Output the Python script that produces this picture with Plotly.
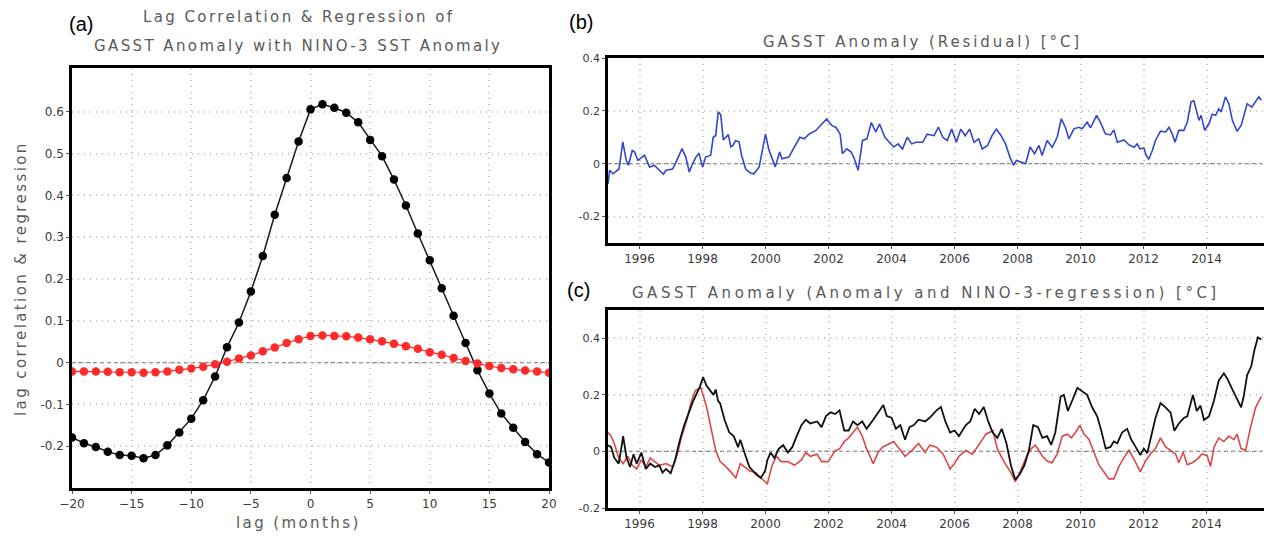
import plotly.graph_objects as go

# ---------------- Panel (a) data ----------------
lags = list(range(-20, 21))
lag_corr = [-0.179, -0.193, -0.202, -0.213, -0.221, -0.223, -0.229, -0.221, -0.198, -0.167,
            -0.134, -0.090, -0.033, 0.037, 0.096, 0.170, 0.255, 0.354, 0.442, 0.529,
            0.606, 0.618, 0.610, 0.598, 0.575, 0.533, 0.494, 0.438, 0.376, 0.309,
            0.245, 0.178, 0.112, 0.047, -0.018, -0.074, -0.122, -0.156, -0.190, -0.219, -0.239]
lag_regr = [-0.021, -0.021, -0.021, -0.022, -0.023, -0.023, -0.024, -0.023, -0.021, -0.017,
            -0.014, -0.010, -0.004, 0.002, 0.010, 0.017, 0.027, 0.036, 0.047, 0.056,
            0.064, 0.065, 0.064, 0.063, 0.060, 0.056, 0.051, 0.045, 0.039, 0.033,
            0.025, 0.019, 0.011, 0.004, -0.002, -0.008, -0.013, -0.016, -0.019, -0.021, -0.024]
lag_ticks = [-20, -15, -10, -5, 0, 5, 10, 15, 20]
a_yticks = [-0.2, -0.1, 0, 0.1, 0.2, 0.3, 0.4, 0.5, 0.6]

# ---------------- Panel (b) data: residual ----------------
b_year = [1995.0, 1995.05, 1995.16, 1995.26, 1995.35, 1995.47, 1995.58, 1995.65, 1995.77, 1995.84,
          1995.95, 1996.16, 1996.32, 1996.47, 1996.63, 1996.76, 1996.84, 1997.05, 1997.16, 1997.35,
          1997.47, 1997.58, 1997.66, 1997.79, 1997.89, 1998.0, 1998.1, 1998.26, 1998.34, 1998.42,
          1998.5, 1998.58, 1998.66, 1998.74, 1998.82, 1998.9, 1998.97, 1999.05, 1999.16, 1999.24,
          1999.37, 1999.53, 1999.63, 1999.8, 2000.0, 2000.1, 2000.31, 2000.45, 2000.52, 2000.74,
          2000.95, 2001.09, 2001.23, 2001.38, 2001.59, 2001.8, 2001.94, 2002.11, 2002.23, 2002.37,
          2002.44, 2002.58, 2002.72, 2002.82, 2002.94, 2003.08, 2003.22, 2003.36, 2003.5, 2003.62,
          2003.79, 2003.93, 2004.07, 2004.21, 2004.35, 2004.5, 2004.64, 2004.78, 2004.99, 2005.13,
          2005.35, 2005.49, 2005.63, 2005.77, 2005.91, 2006.06, 2006.2, 2006.34, 2006.48, 2006.62,
          2006.77, 2006.88, 2007.05, 2007.19, 2007.33, 2007.48, 2007.62, 2007.76, 2007.87, 2007.97,
          2008.11, 2008.26, 2008.4, 2008.54, 2008.68, 2008.78, 2008.94, 2009.1, 2009.26, 2009.39,
          2009.52, 2009.63, 2009.79, 2009.95, 2010.05, 2010.21, 2010.32, 2010.51, 2010.63, 2010.79,
          2010.95, 2011.06, 2011.17, 2011.38, 2011.54, 2011.7, 2011.8, 2011.89, 2012.01, 2012.09,
          2012.17, 2012.28, 2012.38, 2012.54, 2012.7, 2012.81, 2012.91, 2013.0, 2013.12, 2013.28,
          2013.39, 2013.51, 2013.6, 2013.7, 2013.76, 2013.83, 2013.94, 2014.08, 2014.18, 2014.29,
          2014.39, 2014.47, 2014.6, 2014.71, 2014.82, 2014.97, 2015.1, 2015.29, 2015.44, 2015.66,
          2015.74]
b_resid = [-0.076, -0.025, -0.038, -0.030, -0.020, 0.083, 0.013, -0.006, 0.050, 0.045,
           0.013, 0.032, -0.013, -0.006, -0.025, -0.040, -0.025, -0.020, 0.006, 0.057,
           0.025, -0.032, -0.006, 0.025, 0.040, -0.013, 0.025, 0.032, 0.100, 0.107,
           0.197, 0.185, 0.090, 0.100, 0.110, 0.064, 0.070, 0.087, 0.083, 0.032,
           -0.020, -0.036, -0.038, -0.012, 0.112, 0.056, -0.012, 0.044, 0.019, 0.025,
           0.069, 0.100, 0.094, 0.112, 0.125, 0.150, 0.169, 0.144, 0.138, 0.112,
           0.038, 0.056, 0.044, 0.019, -0.025, 0.088, 0.094, 0.156, 0.120, 0.150,
           0.100, 0.081, 0.063, 0.075, 0.056, 0.100, 0.075, 0.081, 0.081, 0.112,
           0.106, 0.138, 0.100, 0.088, 0.131, 0.081, 0.131, 0.106, 0.131, 0.081,
           0.094, 0.056, 0.069, 0.106, 0.131, 0.106, 0.075, 0.025, -0.006, 0.0125,
           0.006, 0.000, 0.063, 0.038, 0.069, 0.031, 0.088, 0.062, 0.100, 0.170,
           0.138, 0.094, 0.132, 0.138, 0.132, 0.157, 0.136, 0.183, 0.157, 0.113,
           0.109, 0.128, 0.081, 0.090, 0.071, 0.062, 0.075, 0.056, 0.060, 0.030,
           0.018, 0.050, 0.088, 0.123, 0.120, 0.138, 0.113, 0.081, 0.126, 0.126,
           0.157, 0.234, 0.238, 0.196, 0.164, 0.183, 0.126, 0.151, 0.187, 0.183,
           0.208, 0.196, 0.253, 0.227, 0.164, 0.123, 0.145, 0.227, 0.214, 0.253,
           0.240]

# ---------------- Panel (c) data ----------------
c_year_anom = [1995.0, 1995.1, 1995.2, 1995.34, 1995.41, 1995.48, 1995.59, 1995.7, 1995.81, 1995.91,
               1996.06, 1996.2, 1996.34, 1996.49, 1996.63, 1996.73, 1996.84, 1996.99, 1997.13, 1997.27,
               1997.42, 1997.56, 1997.7, 1997.92, 1998.02, 1998.13, 1998.27, 1998.35, 1998.42, 1998.49,
               1998.56, 1998.7, 1998.85, 1998.99, 1999.13, 1999.2, 1999.35, 1999.49, 1999.7, 1999.85,
               1999.99, 2000.06, 2000.16, 2000.28, 2000.42, 2000.56, 2000.71, 2000.85, 2000.99, 2001.14,
               2001.28, 2001.42, 2001.64, 2001.78, 2001.92, 2002.07, 2002.21, 2002.35, 2002.5, 2002.64,
               2002.78, 2002.92, 2003.07, 2003.21, 2003.42, 2003.64, 2003.74, 2003.85, 2004.0, 2004.14,
               2004.28, 2004.43, 2004.57, 2004.71, 2004.86, 2005.07, 2005.21, 2005.43, 2005.57, 2005.71,
               2005.86, 2006.0, 2006.14, 2006.36, 2006.5, 2006.64, 2006.78, 2006.93, 2007.07, 2007.21,
               2007.36, 2007.5, 2007.65, 2007.79, 2007.93, 2008.07, 2008.22, 2008.36, 2008.5, 2008.65,
               2008.79, 2008.94, 2009.07, 2009.2, 2009.37, 2009.47, 2009.6, 2009.74, 2009.9, 2010.05,
               2010.21, 2010.37, 2010.53, 2010.66, 2010.8, 2010.95, 2011.06, 2011.17, 2011.32, 2011.48,
               2011.61, 2011.75, 2011.9, 2012.01, 2012.12, 2012.22, 2012.38, 2012.54, 2012.7, 2012.86,
               2012.98, 2013.12, 2013.28, 2013.39, 2013.49, 2013.57, 2013.69, 2013.81, 2013.92, 2014.08,
               2014.24, 2014.39, 2014.55, 2014.66, 2014.82, 2014.97, 2015.1, 2015.18, 2015.29, 2015.42,
               2015.52, 2015.63, 2015.74]
c_anom = [0.022, 0.015, -0.023, -0.043, 0.003, 0.054, -0.023, -0.055, -0.010, -0.043,
          -0.004, -0.062, -0.043, -0.055, -0.049, -0.075, -0.062, -0.077, -0.030, 0.035,
          0.093, 0.132, 0.177, 0.230, 0.262, 0.232, 0.213, 0.200, 0.219, 0.180,
          0.170, 0.112, 0.067, 0.054, 0.015, 0.041, -0.010, -0.055, -0.081, -0.094,
          -0.068, -0.030, -0.004, -0.023, 0.009, 0.022, -0.004, 0.015, 0.054, 0.093,
          0.112, 0.099, 0.106, 0.086, 0.125, 0.138, 0.132, 0.145, 0.074, 0.074,
          0.106, 0.093, 0.106, 0.080, 0.112, 0.145, 0.164, 0.125, 0.119, 0.080,
          0.093, 0.041, 0.086, 0.093, 0.112, 0.106, 0.119, 0.145, 0.157, 0.106,
          0.067, 0.074, 0.054, 0.093, 0.106, 0.151, 0.132, 0.157, 0.106, 0.067,
          0.048, 0.080, 0.028, -0.049, -0.100, -0.081, -0.049, 0.003, 0.093, 0.086,
          0.048, 0.054, 0.023, 0.067, 0.194, 0.200, 0.143, 0.181, 0.225, 0.213,
          0.200, 0.156, 0.124, 0.073, 0.010, 0.016, 0.035, 0.029, 0.067, 0.080,
          0.042, 0.016, -0.013, 0.010, -0.006, 0.042, 0.118, 0.171, 0.156, 0.137,
          0.073, 0.099, 0.118, 0.124, 0.168, 0.200, 0.143, 0.162, 0.111, 0.124,
          0.181, 0.251, 0.276, 0.257, 0.219, 0.187, 0.156, 0.194, 0.270, 0.301,
          0.358, 0.403, 0.396]

c_year_regr = [1995.0, 1995.1, 1995.2, 1995.34, 1995.48, 1995.63, 1995.77, 1995.91, 1996.06, 1996.2,
               1996.34, 1996.49, 1996.63, 1996.84, 1997.06, 1997.2, 1997.34, 1997.49, 1997.63, 1997.77,
               1997.95, 1998.13, 1998.27, 1998.42, 1998.56, 1998.7, 1998.92, 1999.06, 1999.2, 1999.35,
               1999.49, 1999.7, 1999.85, 2000.06, 2000.21, 2000.35, 2000.49, 2000.71, 2000.92, 2001.14,
               2001.28, 2001.42, 2001.64, 2001.78, 2001.99, 2002.21, 2002.35, 2002.5, 2002.64, 2002.78,
               2002.92, 2003.07, 2003.21, 2003.42, 2003.57, 2003.71, 2003.93, 2004.07, 2004.21, 2004.43,
               2004.64, 2004.86, 2005.07, 2005.21, 2005.43, 2005.64, 2005.86, 2006.0, 2006.14, 2006.36,
               2006.57, 2006.79, 2007.0, 2007.22, 2007.36, 2007.57, 2007.79, 2007.93, 2008.07, 2008.29,
               2008.43, 2008.57, 2008.79, 2008.94, 2009.1, 2009.26, 2009.42, 2009.58, 2009.71, 2009.84,
               2009.98, 2010.11, 2010.27, 2010.43, 2010.58, 2010.74, 2010.9, 2011.06, 2011.22, 2011.38,
               2011.54, 2011.7, 2011.9, 2012.06, 2012.22, 2012.38, 2012.54, 2012.7, 2012.86, 2013.02,
               2013.12, 2013.26, 2013.39, 2013.55, 2013.7, 2013.86, 2014.02, 2014.13, 2014.24, 2014.39,
               2014.55, 2014.71, 2014.87, 2014.97, 2015.1, 2015.24, 2015.4, 2015.56, 2015.74]
c_regr = [0.067, 0.054, 0.028, -0.023, -0.043, -0.017, -0.049, -0.062, -0.030, -0.055,
          -0.023, -0.036, -0.049, -0.043, -0.055, -0.010, 0.054, 0.106, 0.170, 0.215,
          0.225, 0.157, 0.086, 0.003, -0.036, -0.049, -0.075, -0.094, -0.043, -0.055,
          -0.068, -0.075, -0.094, -0.114, -0.049, -0.017, -0.036, -0.036, -0.049, -0.030,
          -0.004, -0.017, -0.010, -0.036, -0.036, 0.003, 0.009, 0.035, 0.048, 0.067,
          0.086, 0.054, 0.009, -0.043, -0.004, 0.015, 0.028, 0.035, 0.015, -0.017,
          0.003, 0.028, -0.004, 0.022, 0.015, -0.010, -0.062, -0.043, -0.017, 0.003,
          -0.010, 0.028, 0.061, 0.074, 0.009, -0.036, -0.075, -0.107, -0.075, -0.017,
          0.009, 0.022, -0.017, -0.034, -0.040, -0.009, 0.054, 0.061, 0.048, 0.067,
          0.092, 0.061, 0.042, -0.003, -0.047, -0.072, -0.097, -0.097, -0.053, -0.022,
          0.004, -0.028, -0.072, -0.034, -0.009, 0.010, 0.048, 0.016, 0.004, -0.009,
          -0.040, -0.003, -0.047, -0.040, -0.028, -0.009, -0.015, -0.053, 0.016, 0.048,
          0.035, 0.054, 0.042, 0.061, 0.010, 0.004, 0.086, 0.156, 0.194]

year_ticks = list(range(1996, 2016, 2))

# ---------------- Figure ----------------
FONT = "DejaVu Sans"
TXT = "#3a3a3a"
TITLE_C = "#5a5a5a"
GRID = "#c4c4c4"
W, H = 1264, 538

fig = go.Figure()

# Panel a
fig.add_trace(go.Scatter(x=lags, y=lag_corr, mode="lines+markers",
                         line=dict(color="#1a1a1a", width=1.5),
                         marker=dict(color="black", size=8.5), xaxis="x", yaxis="y",
                         showlegend=False))
fig.add_trace(go.Scatter(x=lags, y=lag_regr, mode="lines+markers",
                         line=dict(color="#ff2a2a", width=1.2),
                         marker=dict(color="#ff2a2a", size=8.5), xaxis="x", yaxis="y",
                         showlegend=False))
# Panel b
fig.add_trace(go.Scatter(x=b_year, y=b_resid, mode="lines",
                         line=dict(color="#3346c8", width=1.6),
                         xaxis="x2", yaxis="y2", showlegend=False))
# Panel c
fig.add_trace(go.Scatter(x=c_year_regr, y=c_regr, mode="lines",
                         line=dict(color="#d9484c", width=1.6),
                         xaxis="x3", yaxis="y3", showlegend=False))
fig.add_trace(go.Scatter(x=c_year_anom, y=c_anom, mode="lines",
                         line=dict(color="#111111", width=1.8),
                         xaxis="x3", yaxis="y3", showlegend=False))

def px_x(p):
    return p / W

def px_y(p):
    return 1 - p / H

axis_common = dict(showline=True, linecolor="black", ticks="outside", ticklen=3,
                   tickcolor="#555", showgrid=True, gridcolor=GRID, griddash="1px,5px",
                   gridwidth=1.5, zeroline=False, automargin=False,
                   tickfont=dict(family=FONT, size=12, color=TXT))

b_x0 = 608
b_xmax = 1995.0 + (W - b_x0) / 31.5

fig.update_layout(
    width=W, height=H, margin=dict(l=0, r=0, t=0, b=0),
    paper_bgcolor="white", plot_bgcolor="white",
    xaxis=dict(domain=[px_x(72), px_x(549)], range=[-20, 20], tickvals=lag_ticks,
               mirror=True, linewidth=2.5, anchor="y", **axis_common),
    yaxis=dict(domain=[px_y(488), px_y(68)], range=[-0.3, 0.705], tickvals=a_yticks,
               ticktext=[f"{v:g}" for v in a_yticks],
               mirror=True, linewidth=2.5, anchor="x", **axis_common),
    xaxis2=dict(domain=[px_x(b_x0), 1.0], range=[1995.0, b_xmax], tickvals=year_ticks,
                mirror=True, linewidth=2.5, anchor="y2", **axis_common),
    yaxis2=dict(domain=[px_y(243), px_y(58)], range=[-0.3, 0.4],
                tickvals=[-0.2, 0, 0.2, 0.4], ticktext=["-0.2", "0", "0.2", "0.4"],
                mirror=False, linewidth=2.5, anchor="x2", **axis_common),
    xaxis3=dict(domain=[px_x(b_x0), 1.0], range=[1995.0, b_xmax], tickvals=year_ticks,
                mirror=True, linewidth=2.5, anchor="y3", **axis_common),
    yaxis3=dict(domain=[px_y(508), px_y(310)], range=[-0.2, 0.5],
                tickvals=[-0.2, 0, 0.2, 0.4], ticktext=["-0.2", "0", "0.2", "0.4"],
                mirror=False, linewidth=2.5, anchor="x3", **axis_common),
)
fig.update_yaxes(tickfont=dict(size=11), selector=dict(anchor="x2"))
fig.update_yaxes(tickfont=dict(size=11), selector=dict(anchor="x3"))

# zero reference lines (dashed)
for xr, yr in [("x domain", "y"), ("x2 domain", "y2"), ("x3 domain", "y3")]:
    fig.add_shape(type="line", xref=xr, yref=yr, x0=0, x1=1, y0=0, y1=0,
                  line=dict(color="#8a8a8a", width=1.2, dash="4px,3px"), layer="below")

def spaced(text, ls):
    return f"<span style='letter-spacing:{ls}px'>{text}</span>"

ann = []
def note(text, x, y, size, color=TITLE_C, family=FONT, angle=0):
    ann.append(dict(text=text, x=px_x(x), y=px_y(y), xref="paper", yref="paper",
                    showarrow=False, xanchor="center", yanchor="middle", textangle=angle,
                    font=dict(family=family, size=size, color=color)))

note("(a)", 81, 24, 20, color="black", family="Liberation Sans")
note(spaced("Lag Correlation &amp; Regression of", 2.4), 298, 17, 15)
note(spaced("GASST Anomaly with NINO-3 SST Anomaly", 2.4), 298, 46, 15)
note("(b)", 581, 22, 20, color="black", family="Liberation Sans")
note(spaced("GASST Anomaly (Residual) [°C]", 2.9), 922, 42, 15)
note("(c)", 578, 290, 20, color="black", family="Liberation Sans")
note(spaced("GASST Anomaly (Anomaly and NINO-3-regression) [°C]", 3.5), 926, 293, 15)
note(spaced("lag (months)", 2.4), 298, 523, 15)
note(spaced("lag correlation &amp; regression", 2.4), 21, 279, 15, angle=-90)
fig.update_layout(annotations=ann)

fig.write_html("out.html", config={"displayModeBar": False},
               post_script="document.body.style.margin='0';document.body.style.overflow='hidden';")
